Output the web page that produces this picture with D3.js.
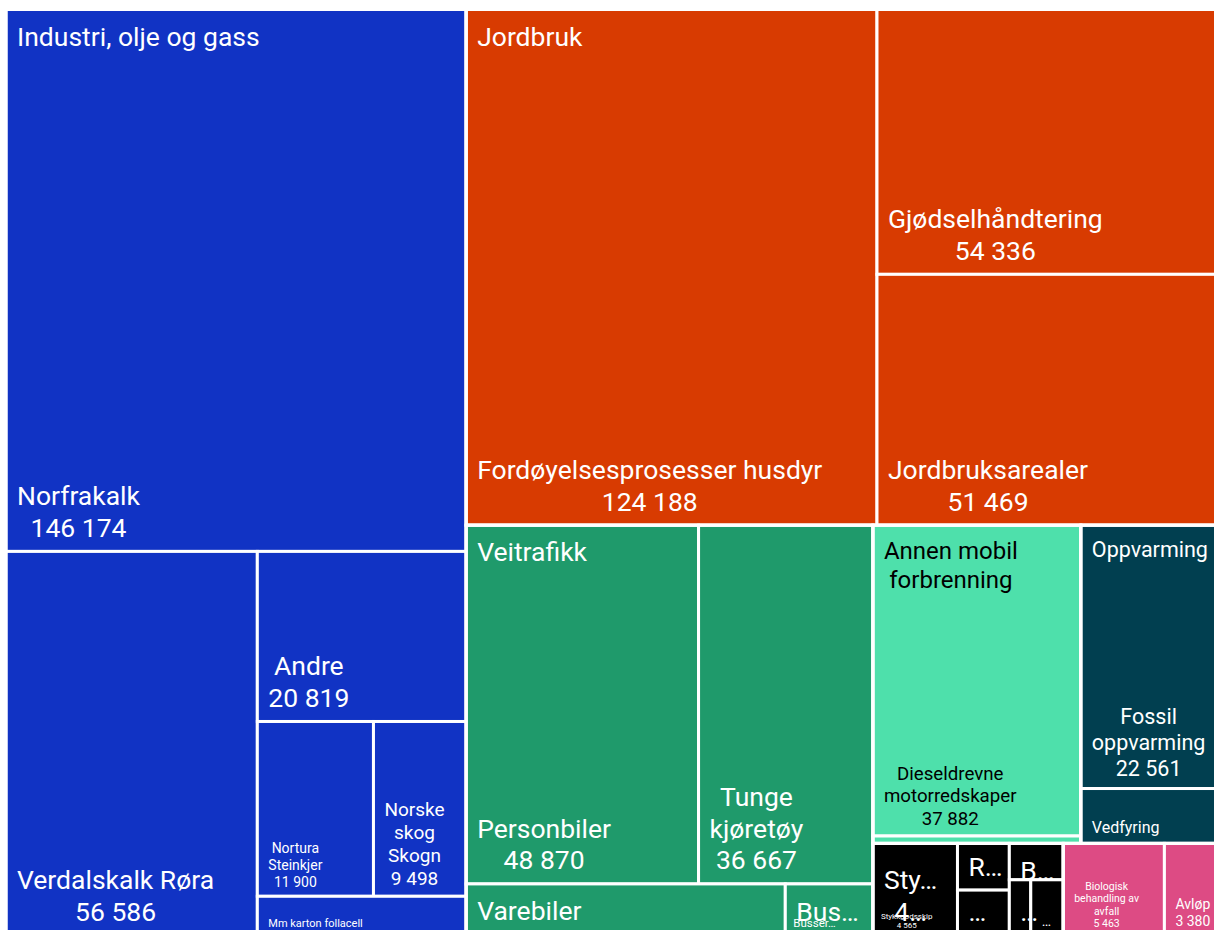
<!DOCTYPE html>
<html>
<head>
<meta charset="utf-8">
<script src="https://cdn.jsdelivr.net/npm/d3@7"></script>
<style>
  html, body { margin: 0; padding: 0; overflow: hidden; background: #ffffff; }
  svg { display: block; }
  text { font-family: Roboto, "Noto Sans", sans-serif; }
</style>
</head>
<body>
<svg id="chart" width="1214" height="930"></svg>
<script>
// ---------------- DATA ----------------
const groupNames = ["Industri, olje og gass", "Jordbruk", "Veitrafikk", "Annen mobil forbrenning", "Oppvarming", "Sjøfart", "Avfall og avløp"];

const industriSources = ["Norfrakalk", "Verdalskalk Røra", "Andre", "Nortura Steinkjer", "Norske skog Skogn", "Mm karton follacell"];
const industriValues  = [146174, 56586, 20819, 11900, 9498, 4800];

const jordbrukSources = ["Fordøyelsesprosesser husdyr", "Gjødselhåndtering", "Jordbruksarealer"];
const jordbrukValues  = [124188, 54336, 51469];

const veitrafikkSources = ["Personbiler", "Tunge kjøretøy", "Varebiler", "Busser"];
const veitrafikkValues  = [48870, 36667, 9650, 2650];

const mobilSources = ["Dieseldrevne motorredskaper", "Andre mobile kilder"];
const mobilValues  = [37882, 900];

const oppvarmingSources = ["Fossil oppvarming", "Vedfyring"];
const oppvarmingValues  = [22561, 4700];

const sjofartSources = ["Stykkgodsskip", "Ro-Ro last", "Passasjerskip", "Bulkskip", "Fiskefartøy", "Andre skip"];
const sjofartValues  = [4565, 1420, 1380, 1150, 700, 1060];

const avfallSources = ["Biologisk behandling av avfall", "Avløp"];
const avfallValues  = [5463, 3380];

// ---------------- STYLE / LAYOUT CONFIG ----------------
const groupColor = {
  "Industri, olje og gass": "#1133C4",
  "Jordbruk": "#D83B01",
  "Veitrafikk": "#1F9A6B",
  "Annen mobil forbrenning": "#4EE0AB",
  "Oppvarming": "#013F50",
  "Sjøfart": "#000000",
  "Avfall og avløp": "#DD4B84"
};
const groupTextColor = { "Annen mobil forbrenning": "#000000" };

// number of items per strip (strips run along the shorter side of the remaining area)
const stripPlan = {
  root: [1, 1, 1, 2, 1, 1],
  "Industri, olje og gass": [1, 1, 1, 2, 1],
  "Jordbruk": [1, 1, 1],
  "Veitrafikk": [2, 1, 1],
  "Annen mobil forbrenning": [1, 1],
  "Oppvarming": [1, 1],
  "Sjøfart": [1, 2, 1, 2],
  "Avfall og avløp": [1, 1]
};

const BASE_FS = 26.5;

const groupLabelStyle = {
  "Annen mobil forbrenning": { size: 24 },
  "Oppvarming": { size: 21.5 },
  "Sjøfart": { hidden: true },
  "Avfall og avløp": { hidden: true }
};

const leafLabelStyle = {
  "Nortura Steinkjer": { size: 14 },
  "Norske skog Skogn": { size: 19 },
  "Mm karton follacell": { size: 11, nameOnly: true },
  "Dieseldrevne motorredskaper": { size: 18.7 },
  "Andre mobile kilder": { hidden: true },
  "Fossil oppvarming": { size: 21.5 },
  "Vedfyring": { size: 16, nameOnly: true },
  "Biologisk behandling av avfall": { size: 10.5 },
  "Avløp": { size: 14 },
  "Busser": { lines: ["Bus…"], ghost: { size: 11.5, lines: ["Busser…"] } },
  "Stykkgodsskip": { lines: ["Sty…", "4…"], ghost: { size: 8, lines: ["Stykkgodsskip", "4 565"] } },
  "Ro-Ro last": { lines: ["R…"] },
  "Passasjerskip": { lines: ["…"] },
  "Bulkskip": { lines: ["B…"] },
  "Fiskefartøy": { lines: ["…"] },
  "Andre skip": { size: 14, lines: ["…"] }
};

// ---------------- BUILD ----------------
const groupSources = [industriSources, jordbrukSources, veitrafikkSources, mobilSources, oppvarmingSources, sjofartSources, avfallSources];
const groupValues  = [industriValues, jordbrukValues, veitrafikkValues, mobilValues, oppvarmingValues, sjofartValues, avfallValues];

const treeData = {
  name: "root",
  children: groupNames.map((g, gi) => ({
    name: g,
    children: groupSources[gi].map((s, i) => ({ name: s, value: groupValues[gi][i] }))
  }))
};

const W = 1221, H = 926, X0 = 6, Y0 = 9.5;

function planTile(node, x0, y0, x1, y1) {
  const plan = stripPlan[node.depth === 0 ? "root" : node.data.name] || [];
  const kids = node.children;
  let i = 0, p = 0, value = node.value;
  while (i < kids.length) {
    const n = plan[p++] || (kids.length - i);
    const row = kids.slice(i, i + n);
    const sum = d3.sum(row, d => d.value);
    const last = i + n >= kids.length;
    const dx = x1 - x0, dy = y1 - y0;
    if (dx < dy) {
      const yk = last ? y1 : y0 + dy * sum / value;
      d3.treemapDice({ children: row, value: sum }, x0, y0, x1, yk);
      y0 = yk;
    } else {
      const xk = last ? x1 : x0 + dx * sum / value;
      d3.treemapSlice({ children: row, value: sum }, x0, y0, xk, y1);
      x0 = xk;
    }
    value -= sum;
    i += n;
  }
}

const root = d3.hierarchy(treeData).sum(d => d.value);
d3.treemap().tile(planTile).size([W, H]).round(false)(root);

const x = d3.scaleLinear().domain([0, W]).range([X0, X0 + W]);
const y = d3.scaleLinear().domain([0, H]).range([Y0, Y0 + H]);

const fmt = d3.formatLocale({ decimal: ",", thousands: " ", grouping: [3], currency: ["", " kr"] }).format(",d");

const svg = d3.select("#chart");
const ctx = document.createElement("canvas").getContext("2d");
function tw(s, fs) { ctx.font = fs + "px Roboto"; return ctx.measureText(s).width; }

function truncate(line, fs, avail) {
  if (tw(line, fs) <= avail) return line;
  let s = line;
  while (s.length > 1 && tw(s + "…", fs) > avail) s = s.slice(0, -1);
  return s + "…";
}
function wrap(text, fs, avail) {
  const words = text.split(/\s+/);
  const lines = [];
  let cur = "";
  for (const w of words) {
    const test = cur ? cur + " " + w : w;
    if (!cur || tw(test, fs) <= avail) cur = test;
    else { lines.push(cur); cur = w; }
  }
  if (cur) lines.push(cur);
  return lines.map(l => truncate(l, fs, avail));
}

function drawLabel(layer, lines, fs, color, cx0, cy0, cx1, cy1, mode, padX) {
  const lh = fs * 1.2;
  const blockH = lines.length * lh;
  const cellH = cy1 - cy0;
  let firstBase;
  if (mode === "top" || blockH + 10 > cellH) {
    firstBase = cy0 + 12 + 0.91 * fs;
  } else {
    const lastBase = cy1 - (4 + 0.4 * fs);
    firstBase = lastBase - (lines.length - 1) * lh;
  }
  const bw = d3.max(lines, l => tw(l, fs));
  const cx = cx0 + padX + bw / 2;
  const t = layer.append("text")
    .attr("fill", color)
    .attr("font-size", fs)
    .attr("text-anchor", "middle");
  lines.forEach((l, i) => {
    t.append("tspan").attr("x", cx).attr("y", firstBase + i * lh).text(l);
  });
}

// leaves
svg.append("g").selectAll("rect")
  .data(root.leaves())
  .join("rect")
  .attr("x", d => x(d.x0))
  .attr("y", d => y(d.y0))
  .attr("width", d => x(d.x1) - x(d.x0))
  .attr("height", d => y(d.y1) - y(d.y0))
  .attr("fill", d => groupColor[d.parent.data.name])
  .attr("stroke", "#ffffff")
  .attr("stroke-width", 3);

// group borders
svg.append("g").selectAll("rect")
  .data(root.children)
  .join("rect")
  .attr("x", d => x(d.x0))
  .attr("y", d => y(d.y0))
  .attr("width", d => x(d.x1) - x(d.x0))
  .attr("height", d => y(d.y1) - y(d.y0))
  .attr("fill", "none")
  .attr("stroke", "#ffffff")
  .attr("stroke-width", 3);

// leaf labels
const leafLayer = svg.append("g");
root.leaves().forEach(d => {
  const st = leafLabelStyle[d.data.name] || {};
  if (st.hidden) return;
  const fs = st.size || BASE_FS;
  const color = groupTextColor[d.parent.data.name] || "#ffffff";
  const x0 = x(d.x0), x1 = x(d.x1), y0 = y(d.y0), y1 = y(d.y1);
  const avail = x1 - x0 - 20;
  let lines = st.lines;
  if (!lines) {
    lines = wrap(d.data.name, fs, avail);
    if (!st.nameOnly) lines = lines.concat(wrap(fmt(d.value), fs, avail));
  }
  drawLabel(leafLayer, lines, fs, color, x0, y0, x1, y1, "auto", 11);
  if (st.ghost) {
    drawLabel(leafLayer, st.ghost.lines, st.ghost.size, color, x0, y0, x1, y1, "auto", 8);
  }
});

// group labels
const groupLayer = svg.append("g");
root.children.forEach(d => {
  const st = groupLabelStyle[d.data.name] || {};
  if (st.hidden) return;
  const fs = st.size || BASE_FS;
  const color = groupTextColor[d.data.name] || "#ffffff";
  const x0 = x(d.x0), x1 = x(d.x1), y0 = y(d.y0), y1 = y(d.y1);
  const lines = wrap(d.data.name, fs, x1 - x0 - 20);
  drawLabel(groupLayer, lines, fs, color, x0, y0, x1, y1, "top", 11);
});
</script>
</body>
</html>
